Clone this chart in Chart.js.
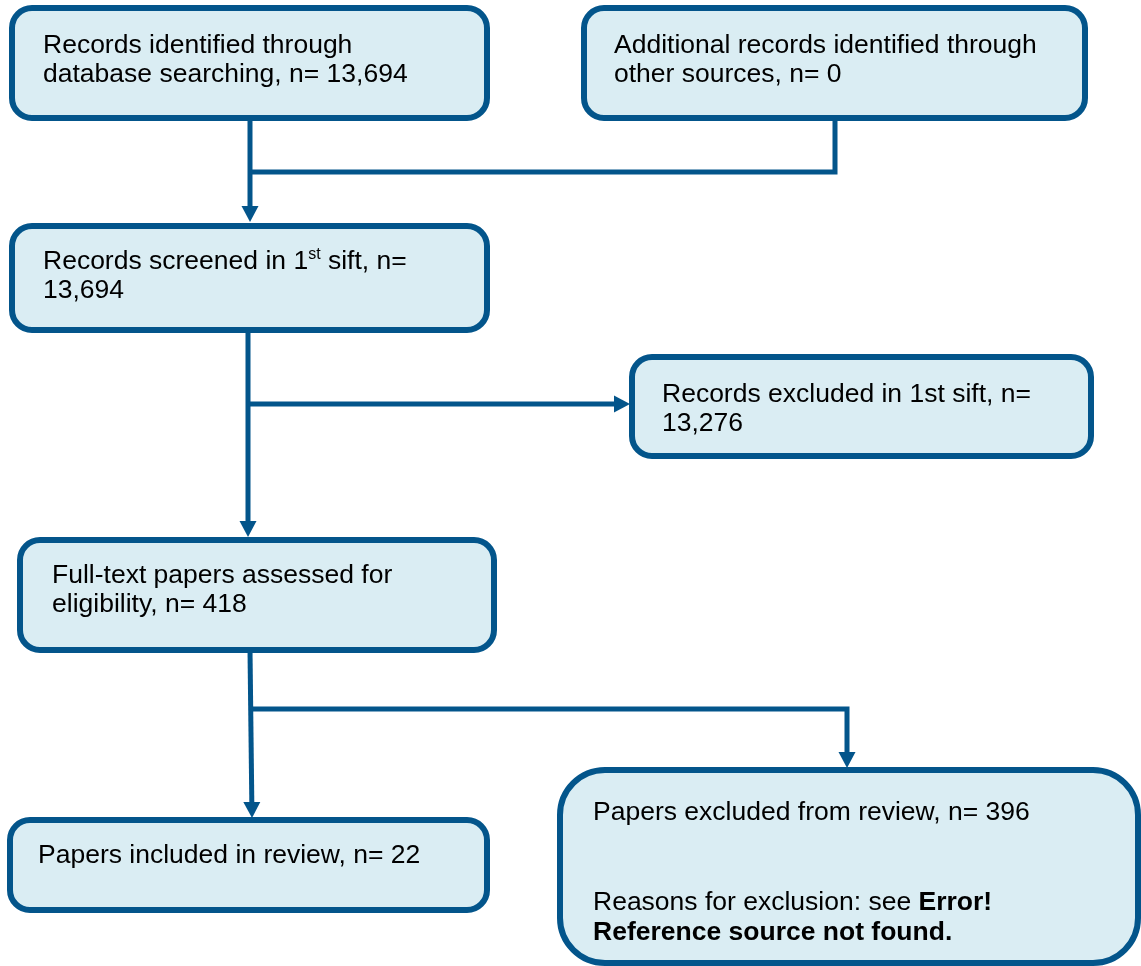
<!DOCTYPE html>
<html>
<head>
<meta charset="utf-8">
<script src="https://cdn.jsdelivr.net/npm/chart.js@4/dist/chart.umd.min.js"></script>
<style>
  html, body { margin: 0; padding: 0; background: #fff; }
  #wrap { width: 1141px; height: 966px; }
</style>
</head>
<body>
<div id="wrap"><canvas id="flow" width="1141" height="966"></canvas></div>
<script>
// counts shown in each box
const counts = [13694, 0, 13694, 13276, 418, 22, 396];
const fmt = n => n.toLocaleString("en-US");

// box text, line by line; each line is a list of runs
const boxLines = [
  [[{ t: "Records identified through" }], [{ t: "database searching, n= " + fmt(counts[0]) }]],
  [[{ t: "Additional records identified through" }], [{ t: "other sources, n= " + fmt(counts[1]) }]],
  [[{ t: "Records screened in 1" }, { t: "st", sup: true }, { t: " sift, n=" }], [{ t: fmt(counts[2]) }]],
  [[{ t: "Records excluded in 1st sift, n=" }], [{ t: fmt(counts[3]) }]],
  [[{ t: "Full-text papers assessed for" }], [{ t: "eligibility, n= " + fmt(counts[4]) }]],
  [[{ t: "Papers included in review, n= " + fmt(counts[5]) }]],
  [[{ t: "Papers excluded from review, n= " + fmt(counts[6]) }], [], [],
   [{ t: "Reasons for exclusion: see " }, { t: "Error!", bold: true }],
   [{ t: "Reference source not found.", bold: true }]]
];

// layout (chart units = pixels of the original figure)
const boxRects = [
  [12, 8, 487, 118, 20],
  [584, 8, 1085, 118, 20],
  [12, 226, 487, 330, 20],
  [632, 357, 1091, 456, 20],
  [20, 540, 494, 650, 20],
  [10, 820, 487, 910, 20],
  [560, 770, 1138, 963, 45]
];
const textOrigins = [[43, 53], [614, 53], [43, 269], [662, 402], [52, 583], [38, 863], [593, 820]];
const lineHeights = [29, 29, 29, 29, 29, 29, 30];

const connectors = [
  { pts: [[250, 119], [250, 222]], arrow: true },
  { pts: [[835, 118], [835, 172], [250, 172]], arrow: false },
  { pts: [[248, 330], [248, 537]], arrow: true },
  { pts: [[248, 404], [630, 404]], arrow: true },
  { pts: [[250, 650], [252, 818]], arrow: true },
  { pts: [[250, 709], [847, 709], [847, 768]], arrow: true }
];

const BORDER = "#03558b";
const FILL = "#daedf3";
const FONT = "'Liberation Sans', Arial, sans-serif";

const flowPlugin = {
  id: "flow",
  afterDraw(chart) {
    const { ctx, scales: { x, y } } = chart;
    const px = v => x.getPixelForValue(v);
    const py = v => y.getPixelForValue(v);
    ctx.save();

    // connectors
    ctx.strokeStyle = BORDER;
    ctx.fillStyle = BORDER;
    ctx.lineWidth = 5;
    ctx.lineJoin = "miter";
    connectors.forEach(c => {
      const p = c.pts.map(([a, b]) => [px(a), py(b)]);
      const n = p.length;
      let end = p[n - 1];
      let dx = 0, dy = 0, len = 0;
      if (c.arrow) {
        dx = p[n - 1][0] - p[n - 2][0];
        dy = p[n - 1][1] - p[n - 2][1];
        len = Math.hypot(dx, dy);
        dx /= len; dy /= len;
        end = [p[n - 1][0] - dx * 14, p[n - 1][1] - dy * 14];
      }
      ctx.beginPath();
      ctx.moveTo(p[0][0], p[0][1]);
      for (let i = 1; i < n - 1; i++) ctx.lineTo(p[i][0], p[i][1]);
      ctx.lineTo(end[0], end[1]);
      ctx.stroke();
      if (c.arrow) {
        const tip = p[n - 1];
        const bx = tip[0] - dx * 16, by = tip[1] - dy * 16;
        ctx.beginPath();
        ctx.moveTo(tip[0], tip[1]);
        ctx.lineTo(bx - dy * 8.5, by + dx * 8.5);
        ctx.lineTo(bx + dy * 8.5, by - dx * 8.5);
        ctx.closePath();
        ctx.fill();
      }
    });

    // boxes
    boxRects.forEach(([x0, y0, x1, y1, r], i) => {
      const l = px(x0), t = py(y0), w = px(x1) - l, h = py(y1) - t;
      ctx.beginPath();
      ctx.roundRect(l, t, w, h, r);
      ctx.fillStyle = FILL;
      ctx.fill();
      ctx.lineWidth = 6;
      ctx.strokeStyle = BORDER;
      ctx.stroke();

      // text
      ctx.fillStyle = "#000";
      ctx.textBaseline = "alphabetic";
      ctx.textAlign = "left";
      const [tx, ty] = textOrigins[i];
      boxLines[i].forEach((runs, j) => {
        let cx = px(tx);
        const base = py(ty + j * lineHeights[i]);
        runs.forEach(run => {
          const size = run.sup ? 16 : 26.5;
          ctx.font = (run.bold ? "bold " : "") + size + "px " + FONT;
          ctx.fillText(run.t, cx, run.sup ? base - 10 : base);
          cx += ctx.measureText(run.t).width;
        });
      });
    });
    ctx.restore();
  }
};

new Chart(document.getElementById("flow"), {
  type: "scatter",
  data: { datasets: [{ data: [], pointRadius: 0 }] },
  options: {
    responsive: false,
    animation: false,
    devicePixelRatio: 1,
    layout: { padding: 0 },
    plugins: { legend: { display: false }, tooltip: { enabled: false } },
    scales: {
      x: { type: "linear", min: 0, max: 1141, display: false },
      y: { type: "linear", min: 0, max: 966, reverse: true, display: false }
    }
  },
  plugins: [flowPlugin]
});
</script>
</body>
</html>
